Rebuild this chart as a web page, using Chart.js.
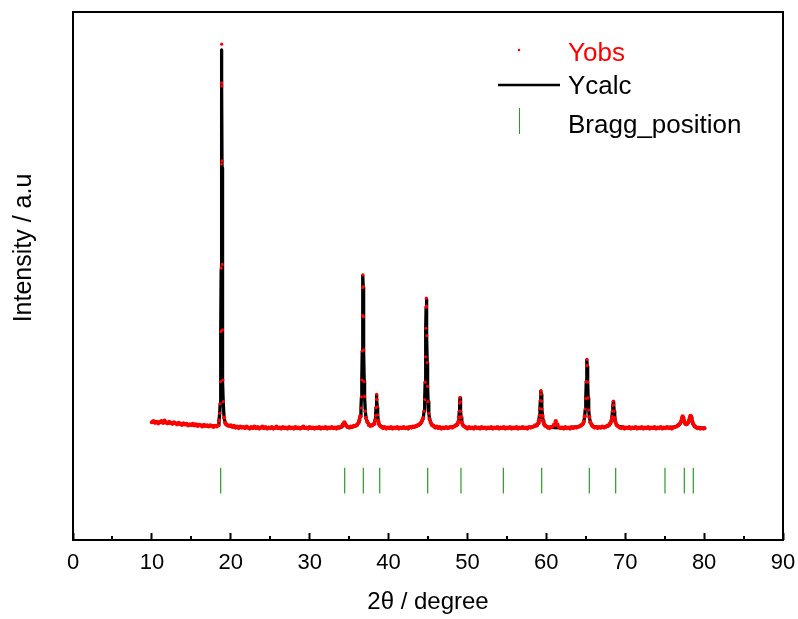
<!DOCTYPE html>
<html>
<head>
<meta charset="utf-8">
<script src="https://cdn.jsdelivr.net/npm/chart.js@4.4.0/dist/chart.umd.min.js"></script>
<style>
html,body{margin:0;padding:0;background:#ffffff;}
#wrap{width:798px;height:619px;position:relative;}
</style>
</head>
<body>
<div id="wrap"><canvas id="c"></canvas></div>
<script>
// ---- observed pattern (2theta in degrees, intensity in arbitrary units) ----
const obsTheta = [
  10.0,10.2,10.4,10.6,10.8,11.0,11.2,11.4,11.6,11.8,
  12.0,12.2,12.4,12.6,12.8,13.0,13.2,13.4,13.6,13.8,
  14.0,14.2,14.4,14.6,14.8,15.0,15.2,15.4,15.6,15.8,
  16.0,16.2,16.4,16.6,16.8,17.0,17.2,17.4,17.6,17.8,
  18.0,18.2,18.4,
  18.5,18.6,18.65,18.7,18.75,18.78,18.81,18.83,18.85,18.87,
  18.89,18.92,18.95,19.0,19.05,19.15,19.3,
  19.4,19.6,19.8,20.0,20.2,20.4,20.6,20.8,21.0,21.2,
  21.4,21.6,21.8,22.0,22.2,22.4,22.6,22.8,23.0,23.2,
  23.4,23.6,23.8,24.0,24.2,24.4,24.6,24.8,25.0,25.2,
  25.4,25.6,25.8,26.0,26.2,26.4,26.6,26.8,27.0,27.2,
  27.4,27.6,27.8,28.0,28.2,28.4,28.6,28.8,29.0,29.2,
  29.4,29.6,29.8,30.0,30.2,30.4,30.6,30.8,31.0,31.2,
  31.4,31.6,31.8,32.0,32.2,32.4,32.6,32.8,33.0,33.2,
  33.4,33.6,33.8,34.0,34.2,34.4,34.6,34.8,35.0,35.2,
  35.4,35.6,35.8,36.0,36.2,
  36.3,36.4,36.5,36.56,36.61,36.66,36.7,36.73,36.76,36.79,
  36.82,36.86,36.91,36.96,37.05,37.15,37.3,37.5,37.7,37.9,
  38.1,38.2,38.3,38.36,38.41,38.45,38.49,38.53,38.57,38.62,
  38.7,38.8,38.95,
  39.1,39.3,39.5,39.7,39.9,40.1,40.3,40.5,40.7,40.9,
  41.1,41.3,41.5,41.7,41.9,42.1,42.3,42.5,42.7,42.9,
  43.1,43.3,43.5,43.7,43.9,44.1,
  44.25,44.4,44.5,44.58,44.64,44.69,44.73,44.76,44.79,44.82,
  44.86,44.9,44.95,45.01,45.1,45.2,45.35,
  45.5,45.7,45.9,46.1,46.3,46.5,46.7,46.9,47.1,47.3,
  47.5,47.7,47.9,48.1,48.3,48.5,
  48.65,48.75,48.85,48.92,48.97,49.01,49.06,49.1,49.15,49.2,49.28,49.4,
  49.6,49.8,50.0,50.2,50.4,50.6,50.8,51.0,51.2,51.4,
  51.6,51.8,52.0,52.2,52.4,52.6,52.8,53.0,53.2,53.4,
  53.6,53.8,54.0,54.2,54.4,54.6,54.8,55.0,55.2,55.4,
  55.6,55.8,56.0,56.2,56.4,56.6,56.8,57.0,57.2,57.4,
  57.6,57.8,58.0,58.2,58.4,58.6,
  58.8,58.95,59.06,59.13,59.19,59.24,59.28,59.32,59.36,59.4,
  59.45,59.51,59.58,59.68,59.82,
  60.0,60.2,60.4,60.6,60.8,61.0,61.2,61.4,61.6,61.8,
  62.0,62.2,62.4,62.6,62.8,63.0,63.2,63.4,63.6,63.8,
  64.0,64.2,64.4,
  64.6,64.75,64.86,64.94,65.0,65.06,65.11,65.15,65.19,65.24,
  65.3,65.37,65.45,65.58,65.75,
  65.9,66.1,66.3,66.5,66.7,66.9,67.1,67.3,67.5,67.7,67.9,
  68.05,68.15,68.25,68.32,68.38,68.43,68.49,68.54,68.6,68.67,68.76,68.9,
  69.1,69.3,69.5,69.7,69.9,70.1,70.3,70.5,70.7,70.9,
  71.1,71.3,71.5,71.7,71.9,72.1,72.3,72.5,72.7,72.9,
  73.1,73.3,73.5,73.7,73.9,74.1,74.3,74.5,74.7,74.9,
  75.1,75.3,75.5,75.7,75.9,76.1,76.3,76.5,76.7,
  76.85,77.0,77.1,77.18,77.24,77.28,77.33,77.4,77.5,77.62,
  77.75,77.87,78.0,78.1,78.18,78.24,78.3,78.36,78.43,78.52,
  78.64,78.78,
  78.9,79.1,79.3,79.5,79.7,79.9,80.0
];
const yObs = [
  223,225,222,224,221,223,225,222,226,223,
  221,224,222,220,223,221,219,222,220,218,
  221,219,220,217,219,218,220,217,219,216,
  218,217,215,218,216,217,215,217,216,214,
  216,215,217,
  226,240,258,300,395,515,712,866,939,860,
  718,522,398,303,262,232,222,
  219,217,216,217,214,216,213,215,212,215,
  213,214,212,215,213,211,214,212,215,212,
  214,211,213,215,212,214,211,213,212,214,
  211,213,215,212,213,211,214,212,213,211,
  214,212,213,211,214,212,213,211,213,215,
  212,213,211,214,212,213,211,213,212,214,
  211,213,212,214,211,213,212,214,212,213,
  211,214,213,215,219,223,217,214,213,215,
  214,216,216,218,222,
  227,234,250,271,303,358,425,478,502,480,
  423,360,300,272,244,231,224,218,216,217,
  219,220,227,236,251,267,276,266,252,237,
  225,219,216,
  214,212,214,211,213,212,214,211,213,212,
  214,211,213,212,214,212,213,211,214,213,
  215,214,216,217,219,222,
  226,231,244,266,299,347,401,441,458,443,
  387,336,291,262,240,229,222,
  218,216,213,215,212,214,211,213,212,214,
  212,213,214,213,215,217,
  218,220,224,232,244,259,270,262,244,233,223,218,
  215,213,211,214,212,213,211,214,212,213,
  211,214,212,213,211,213,212,214,211,213,
  212,214,211,213,212,214,211,213,212,214,
  211,213,212,214,211,213,212,214,212,213,
  211,214,213,214,215,217,
  217,221,227,236,249,264,277,283,276,263,
  248,235,226,220,217,
  215,213,212,214,215,219,225,219,214,212,
  213,211,214,212,213,211,214,212,214,213,
  214,215,217,
  219,224,234,248,268,300,330,342,331,299,
  269,246,233,223,218,
  215,213,214,212,214,213,215,213,214,216,217,
  220,222,226,233,244,255,263,256,244,231,224,218,
  215,213,212,214,211,213,212,214,211,213,
  212,214,211,213,212,214,211,213,212,214,
  211,213,212,214,211,213,212,214,211,213,
  212,214,212,213,211,213,214,215,217,
  219,222,225,229,232,234,232,228,224,220,
  219,220,223,227,231,234,235,233,229,224,
  219,216,
  214,212,213,211,212,211,212
];

// ---- calculated (refined) profile ----
const calcTheta = [
  10.0,11.0,12.0,13.0,14.0,15.0,16.0,17.0,18.0,18.4,
  18.5,18.6,18.65,18.7,18.75,18.78,18.81,18.83,18.85,18.87,18.89,18.92,18.95,19.0,19.05,19.15,19.3,
  19.6,20.5,22.0,26.0,30.0,33.8,34.1,34.3,34.44,34.6,34.8,35.2,35.6,36.0,36.2,
  36.3,36.4,36.5,36.56,36.61,36.66,36.7,36.73,36.76,36.79,
  36.82,36.86,36.91,36.96,37.05,37.15,37.3,37.5,37.7,37.9,
  38.1,38.2,38.3,38.36,38.41,38.45,38.49,38.53,38.57,38.62,
  38.7,38.8,38.95,
  39.5,42.0,43.0,43.5,44.0,44.25,
  44.4,44.5,44.58,44.64,44.69,44.73,44.76,44.79,44.82,44.86,44.9,44.95,45.01,45.1,45.2,45.35,
  45.5,45.8,46.5,47.5,48.2,48.5,
  48.65,48.75,48.85,48.92,48.97,49.01,49.06,49.1,49.15,49.2,49.28,49.4,
  49.6,50.0,52.0,57.0,58.0,58.4,58.6,
  58.8,58.95,59.06,59.13,59.19,59.24,59.28,59.32,59.36,59.4,59.45,59.51,59.58,59.68,59.82,
  60.2,61.0,62.0,63.0,63.8,64.2,64.4,
  64.6,64.75,64.86,64.94,65.0,65.06,65.11,65.15,65.19,65.24,65.3,65.37,65.45,65.58,65.75,
  66.0,66.8,67.5,67.9,
  68.05,68.15,68.25,68.32,68.38,68.43,68.49,68.54,68.6,68.67,68.76,68.9,
  69.2,70.0,72.0,74.0,75.0,76.0,76.5,76.85,
  77.0,77.1,77.18,77.24,77.28,77.33,77.4,77.5,77.62,77.75,77.87,
  78.0,78.1,78.18,78.24,78.3,78.36,78.43,78.52,78.64,78.78,
  79.0,79.5,80.1
];
const yCalc = [
  223,223,222,221,219,218,217,216,216,217,
  226,240,258,300,393,512,705,855,928,855,705,512,393,300,258,232,222,
  217,214,213,212.5,212.5,212.5,214,219,222,218,214,213,215,218,222,
  226,234,249,270,302,357,424,477,501,479,
  423,358,302,271,244,231,224,219,217,217,
  219,221,227,236,251,266,275,266,251,236,
  225,219,216,
  213,212.5,214,215.5,219,225,
  231,244,266,299,347,401,441,456,441,387,336,291,262,240,229,222,
  218.5,215,213,213,214.5,216.5,
  218,220,224,232,244,259,269,262,244,232,223,218,
  215,213,212.5,212.5,213.5,215,216,
  217,221,227,236,249,264,276,282,276,264,249,236,226,220,217,
  214,213,212.5,212.5,214,215.5,217,
  219,224,234,248,268,300,329,341,329,300,269,247,233,223,218,
  215,213,214,216.5,
  219,222,226,233,243,254,262,255,244,232,224,218,
  215,213,212.5,212.5,213,213.5,215,218.5,
  222,225,229,232,233,232,228,224,220,219,220,
  223,227,231,233,234,233,229,224,219,216,
  213.5,212.5,212
];

// ---- Bragg reflection positions (2theta, degrees) ----
const braggPositions = [18.72,34.44,36.8,38.88,44.96,49.18,54.55,59.41,65.45,68.79,75.04,77.49,78.63];

// ---- axis ticks ----
const xMajorTicks = [0,10,20,30,40,50,60,70,80,90];
const xMinorTicks = [5,15,25,35,45,55,65,75,85];
const seriesNames = ['Yobs','Ycalc','Bragg_position'];
const xTitle = '2θ / degree';
const yTitle = 'Intensity / a.u';

// Bragg marker extent, in intensity units
const BRAGG_HIGH = 137, BRAGG_LOW = 88;

if (obsTheta.length !== yObs.length) console.warn('obs length mismatch', obsTheta.length, yObs.length);
if (calcTheta.length !== yCalc.length) console.warn('calc length mismatch', calcTheta.length, yCalc.length);

const obsData = obsTheta.map((x, i) => ({x: x, y: yObs[i]}));
const calcData = calcTheta.map((x, i) => ({x: x, y: yCalc[i]}));
const braggData = [];
braggPositions.forEach(p => {
  braggData.push({x: p, y: BRAGG_HIGH}, {x: p, y: BRAGG_LOW}, {x: p, y: null});
});

const FONT = '"Liberation Sans", Arial, Helvetica, sans-serif';
const RED = '#ff0000', BLACK = '#000000', GREEN = '#2a9a2a';

const framePlugin = {
  id: 'frame',
  afterDatasetsDraw(chart) {
    const {ctx, chartArea: a} = chart;
    ctx.save();
    ctx.strokeStyle = '#000';
    ctx.lineWidth = 2;
    ctx.strokeRect(a.left, a.top, a.right - a.left, a.bottom - a.top);
    // minor ticks (inward)
    const sx = chart.scales.x;
    ctx.beginPath();
    xMinorTicks.forEach(v => {
      const px = Math.round(sx.getPixelForValue(v));
      ctx.moveTo(px, a.bottom);
      ctx.lineTo(px, a.bottom - 4);
    });
    ctx.stroke();
    ctx.restore();
  }
};

// y-axis title (rotated), placed slightly above the axis centre as in the original figure
const yTitlePlugin = {
  id: 'yTitle',
  afterDraw(chart) {
    const ctx = chart.ctx;
    const a = chart.chartArea;
    ctx.save();
    ctx.font = '25px ' + FONT;
    ctx.fillStyle = '#000';
    ctx.textAlign = 'center';
    ctx.textBaseline = 'middle';
    ctx.translate(24, a.top + (a.bottom - a.top) * 0.447);
    ctx.rotate(-Math.PI / 2);
    ctx.fillText(yTitle, 0, 0);
    ctx.restore();
  }
};

const legendPlugin = {
  id: 'inLegend',
  afterDraw(chart) {
    const ctx = chart.ctx;
    ctx.save();
    ctx.font = '26px ' + FONT;
    ctx.textBaseline = 'alphabetic';
    ctx.textAlign = 'left';
    // Yobs
    ctx.fillStyle = RED;
    ctx.beginPath(); ctx.arc(519, 50, 1.3, 0, Math.PI * 2); ctx.fill();
    ctx.fillText(seriesNames[0], 568, 61);
    // Ycalc
    ctx.strokeStyle = BLACK; ctx.lineWidth = 2.5;
    ctx.beginPath(); ctx.moveTo(498, 85); ctx.lineTo(560, 85); ctx.stroke();
    ctx.fillStyle = BLACK;
    ctx.fillText(seriesNames[1], 568, 94);
    // Bragg
    ctx.strokeStyle = GREEN; ctx.lineWidth = 1;
    ctx.beginPath(); ctx.moveTo(519.5, 108); ctx.lineTo(519.5, 134); ctx.stroke();
    ctx.fillStyle = BLACK;
    ctx.fillText(seriesNames[2], 568, 133);
    ctx.restore();
  }
};

new Chart(document.getElementById('c'), {
  type: 'line',
  data: {
    datasets: [
      {label: seriesNames[0], data: obsData, showLine: false,
       pointRadius: (c) => (c.raw && c.raw.y < 236 ? 2.1 : 1.6), pointHoverRadius: 1.6,
       pointBorderWidth: 0, pointBackgroundColor: RED, borderColor: RED, backgroundColor: RED},
      {label: seriesNames[1], data: calcData, borderColor: BLACK, borderWidth: 3.3, pointRadius: 0,
       borderJoinStyle: 'round', borderCapStyle: 'round', tension: 0, fill: false},
      {label: seriesNames[2], data: braggData, borderColor: GREEN, borderWidth: 1.2, pointRadius: 0,
       spanGaps: false, fill: false}
    ]
  },
  options: {
    responsive: true,
    maintainAspectRatio: false,
    animation: false,
    devicePixelRatio: 1,
    layout: {padding: {top: 12, right: 0, bottom: 0, left: 0}},
    plugins: {legend: {display: false}, tooltip: {enabled: false}},
    scales: {
      x: {
        type: 'linear', min: 0, max: 90,
        afterBuildTicks(scale) { scale.ticks = xMajorTicks.map(v => ({value: v})); },
        ticks: {font: {family: FONT, size: 22}, color: '#000', padding: 17, maxRotation: 0, autoSkip: false},
        grid: {drawOnChartArea: false, drawTicks: true, tickLength: -7, tickWidth: 2, tickColor: '#000'},
        border: {display: false},
        title: {display: true, text: xTitle, font: {family: FONT, size: 24}, color: '#000',
                padding: {top: 0, bottom: 2}},
        afterFit(scale) { scale.height = 79; scale.paddingLeft = 0; scale.paddingRight = 15; }
      },
      y: {
        min: 0, max: 1000,
        ticks: {display: false},
        grid: {display: false},
        border: {display: false},
        title: {display: false, text: yTitle},
        afterFit(scale) { scale.width = 73; }
      }
    }
  },
  plugins: [framePlugin, legendPlugin, yTitlePlugin]
});
</script>
</body>
</html>
